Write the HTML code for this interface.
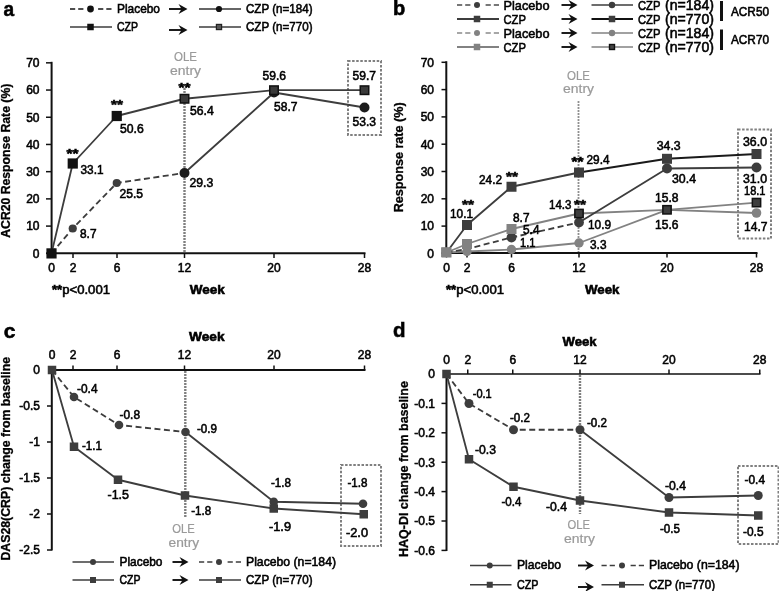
<!DOCTYPE html>
<html><head><meta charset="utf-8"><title>Figure</title>
<style>
html,body{margin:0;padding:0;background:#fff;}
body{width:779px;height:591px;overflow:hidden;font-family:"Liberation Sans", sans-serif;}
svg{display:block;font-family:"Liberation Sans", sans-serif;will-change:transform;}
svg text{font-family:"Liberation Sans", sans-serif;}
</style></head><body>
<svg width="779" height="591" viewBox="0 0 779 591">
<text x="3.4" y="15.7" font-size="20" font-weight="bold" fill="#000" stroke="#000" stroke-width="0.55" text-anchor="start" textLength="10.6" lengthAdjust="spacingAndGlyphs" >a</text>
<line x1="70" y1="9" x2="75.2" y2="9" stroke="#222" stroke-width="1.6" stroke-linecap="butt"/>
<line x1="78.2" y1="9" x2="83.4" y2="9" stroke="#222" stroke-width="1.6" stroke-linecap="butt"/>
<line x1="98.1" y1="9" x2="103.3" y2="9" stroke="#222" stroke-width="1.6" stroke-linecap="butt"/>
<line x1="106.3" y1="9" x2="111.5" y2="9" stroke="#222" stroke-width="1.6" stroke-linecap="butt"/>
<circle cx="90.5" cy="9" r="3.4" fill="#111"/>
<text x="117" y="13" font-size="12" font-weight="normal" fill="#000" stroke="#000" stroke-width="0.55" text-anchor="start" textLength="43" lengthAdjust="spacingAndGlyphs" >Placebo</text>
<path d="M169,9 H185" stroke="#111" stroke-width="1.9" fill="none"/>
<path d="M178.5,4 L187.5,9 L178.5,14 L181.5,9 Z" fill="#111"/>
<line x1="199" y1="9" x2="241" y2="9" stroke="#333" stroke-width="1.5" stroke-linecap="butt"/>
<circle cx="219" cy="9" r="3.1" fill="#111"/>
<text x="246" y="13" font-size="12" font-weight="normal" fill="#000" stroke="#000" stroke-width="0.55" text-anchor="start" textLength="66.5" lengthAdjust="spacingAndGlyphs" >CZP (n=184)</text>
<line x1="70" y1="27" x2="112" y2="27" stroke="#3d3d3d" stroke-width="1.5" stroke-linecap="butt"/>
<rect x="87.25" y="23.75" width="6.5" height="6.5" fill="#111"/>
<text x="117" y="31" font-size="12" font-weight="normal" fill="#000" stroke="#000" stroke-width="0.55" text-anchor="start" textLength="21" lengthAdjust="spacingAndGlyphs" >CZP</text>
<path d="M169,30 H185" stroke="#111" stroke-width="1.9" fill="none"/>
<path d="M178.5,25 L187.5,30 L178.5,35 L181.5,30 Z" fill="#111"/>
<line x1="199" y1="27" x2="241" y2="27" stroke="#3d3d3d" stroke-width="1.5" stroke-linecap="butt"/>
<rect x="216.4" y="24.4" width="5.2" height="5.2" fill="#555" stroke="#222" stroke-width="1.2"/>
<text x="246" y="31" font-size="12" font-weight="normal" fill="#000" stroke="#000" stroke-width="0.55" text-anchor="start" textLength="66.5" lengthAdjust="spacingAndGlyphs" >CZP (n=770)</text>
<line x1="51.6" y1="61.8" x2="51.6" y2="254" stroke="#111" stroke-width="2" stroke-linecap="butt"/>
<line x1="46.5" y1="253.3" x2="365.5" y2="253.3" stroke="#111" stroke-width="1.9" stroke-linecap="butt"/>
<line x1="46" y1="253.3" x2="51.6" y2="253.3" stroke="#111" stroke-width="1.5" stroke-linecap="butt"/>
<text x="39.5" y="257.6" font-size="12" font-weight="normal" fill="#000" stroke="#000" stroke-width="0.55" text-anchor="end" >0</text>
<line x1="46" y1="226.09" x2="51.6" y2="226.09" stroke="#111" stroke-width="1.5" stroke-linecap="butt"/>
<text x="39.5" y="230.39000000000001" font-size="12" font-weight="normal" fill="#000" stroke="#000" stroke-width="0.55" text-anchor="end" >10</text>
<line x1="46" y1="198.88" x2="51.6" y2="198.88" stroke="#111" stroke-width="1.5" stroke-linecap="butt"/>
<text x="39.5" y="203.18" font-size="12" font-weight="normal" fill="#000" stroke="#000" stroke-width="0.55" text-anchor="end" >20</text>
<line x1="46" y1="171.67000000000002" x2="51.6" y2="171.67000000000002" stroke="#111" stroke-width="1.5" stroke-linecap="butt"/>
<text x="39.5" y="175.97000000000003" font-size="12" font-weight="normal" fill="#000" stroke="#000" stroke-width="0.55" text-anchor="end" >30</text>
<line x1="46" y1="144.46" x2="51.6" y2="144.46" stroke="#111" stroke-width="1.5" stroke-linecap="butt"/>
<text x="39.5" y="148.76000000000002" font-size="12" font-weight="normal" fill="#000" stroke="#000" stroke-width="0.55" text-anchor="end" >40</text>
<line x1="46" y1="117.25" x2="51.6" y2="117.25" stroke="#111" stroke-width="1.5" stroke-linecap="butt"/>
<text x="39.5" y="121.55" font-size="12" font-weight="normal" fill="#000" stroke="#000" stroke-width="0.55" text-anchor="end" >50</text>
<line x1="46" y1="90.04000000000002" x2="51.6" y2="90.04000000000002" stroke="#111" stroke-width="1.5" stroke-linecap="butt"/>
<text x="39.5" y="94.34000000000002" font-size="12" font-weight="normal" fill="#000" stroke="#000" stroke-width="0.55" text-anchor="end" >60</text>
<line x1="46" y1="62.83000000000001" x2="51.6" y2="62.83000000000001" stroke="#111" stroke-width="1.5" stroke-linecap="butt"/>
<text x="39.5" y="67.13000000000001" font-size="12" font-weight="normal" fill="#000" stroke="#000" stroke-width="0.55" text-anchor="end" >70</text>
<line x1="51.5" y1="253.3" x2="51.5" y2="258" stroke="#111" stroke-width="1.5" stroke-linecap="butt"/>
<text x="51.5" y="272" font-size="12" font-weight="normal" fill="#000" stroke="#000" stroke-width="0.55" text-anchor="middle" >0</text>
<line x1="73" y1="253.3" x2="73" y2="258" stroke="#111" stroke-width="1.5" stroke-linecap="butt"/>
<text x="73" y="272" font-size="12" font-weight="normal" fill="#000" stroke="#000" stroke-width="0.55" text-anchor="middle" >2</text>
<line x1="117" y1="253.3" x2="117" y2="258" stroke="#111" stroke-width="1.5" stroke-linecap="butt"/>
<text x="117" y="272" font-size="12" font-weight="normal" fill="#000" stroke="#000" stroke-width="0.55" text-anchor="middle" >6</text>
<line x1="184.5" y1="253.3" x2="184.5" y2="258" stroke="#111" stroke-width="1.5" stroke-linecap="butt"/>
<text x="184.5" y="272" font-size="12" font-weight="normal" fill="#000" stroke="#000" stroke-width="0.55" text-anchor="middle" >12</text>
<line x1="274" y1="253.3" x2="274" y2="258" stroke="#111" stroke-width="1.5" stroke-linecap="butt"/>
<text x="274" y="272" font-size="12" font-weight="normal" fill="#000" stroke="#000" stroke-width="0.55" text-anchor="middle" >20</text>
<line x1="364.5" y1="253.3" x2="364.5" y2="258" stroke="#111" stroke-width="1.5" stroke-linecap="butt"/>
<text x="364.5" y="272" font-size="12" font-weight="normal" fill="#000" stroke="#000" stroke-width="0.55" text-anchor="middle" >28</text>
<text x="52" y="294" font-size="12" font-weight="normal" fill="#000" stroke="#000" stroke-width="0.55" text-anchor="start" textLength="58" lengthAdjust="spacingAndGlyphs" ><tspan font-weight="bold">**</tspan>p&lt;0.001</text>
<text x="189.8" y="294" font-size="12" font-weight="bold" fill="#000" stroke="#000" stroke-width="0.55" text-anchor="start" textLength="35" lengthAdjust="spacingAndGlyphs" >Week</text>
<text transform="translate(9.7,160.7) rotate(-90)" font-size="12" font-weight="bold" fill="#000" stroke="#000" stroke-width="0.3" text-anchor="middle" textLength="154" lengthAdjust="spacingAndGlyphs">ACR20 Response Rate (%)</text>
<text x="185.5" y="60.5" font-size="12" font-weight="normal" fill="#9a9a9a" stroke="#9a9a9a" stroke-width="0.2" text-anchor="middle" textLength="23" lengthAdjust="spacingAndGlyphs" >OLE</text>
<text x="185.5" y="74.5" font-size="12" font-weight="normal" fill="#9a9a9a" stroke="#9a9a9a" stroke-width="0.2" text-anchor="middle" textLength="31" lengthAdjust="spacingAndGlyphs" >entry</text>
<line x1="184.5" y1="88" x2="184.5" y2="252" stroke="#808080" stroke-width="2.4" stroke-dasharray="2,1" stroke-linecap="butt"/>
<rect x="348" y="61" width="33" height="74" fill="none" stroke="#808080" stroke-width="2" stroke-dasharray="2.5,1.6"/>
<polyline points="51.5,253.4 72.75,228.5 116.75,183 184.5,173" fill="none" stroke="#3d3d3d" stroke-width="1.83" stroke-dasharray="6,3.5" stroke-linejoin="round"/>
<polyline points="184.5,173 274,92.5 364.5,107.5" fill="none" stroke="#3d3d3d" stroke-width="1.83" stroke-linejoin="round"/>
<polyline points="51.5,253.4 72.75,163.5 116.75,116 184.5,98.75 274,90.2 364.5,90.2" fill="none" stroke="#3d3d3d" stroke-width="1.83" stroke-linejoin="round"/>
<circle cx="72.75" cy="228.5" r="4.1" fill="#3d3d3d"/>
<circle cx="116.75" cy="183" r="4.1" fill="#3d3d3d"/>
<circle cx="184.5" cy="173" r="5" fill="#1c1c1c"/>
<circle cx="274" cy="92.5" r="5" fill="#1c1c1c"/>
<circle cx="364.5" cy="107.5" r="5" fill="#1c1c1c"/>
<rect x="46.4" y="248.3" width="10.2" height="10.2" fill="#111"/>
<rect x="67.65" y="158.4" width="10.2" height="10.2" fill="#111"/>
<rect x="111.65" y="110.9" width="10.2" height="10.2" fill="#111"/>
<rect x="180.25" y="94.5" width="8.5" height="8.5" fill="#3a3a3a" stroke="#111" stroke-width="1.5"/>
<rect x="269.75" y="85.95" width="8.5" height="8.5" fill="#3a3a3a" stroke="#111" stroke-width="1.5"/>
<rect x="360.25" y="85.95" width="8.5" height="8.5" fill="#3a3a3a" stroke="#111" stroke-width="1.5"/>
<text x="80.5" y="174" font-size="12" font-weight="normal" fill="#000" stroke="#000" stroke-width="0.55" text-anchor="start" textLength="23" lengthAdjust="spacingAndGlyphs" >33.1</text>
<text x="119.5" y="198" font-size="12" font-weight="normal" fill="#000" stroke="#000" stroke-width="0.55" text-anchor="start" textLength="23.5" lengthAdjust="spacingAndGlyphs" >25.5</text>
<text x="80" y="238" font-size="12" font-weight="normal" fill="#000" stroke="#000" stroke-width="0.55" text-anchor="start" textLength="16.5" lengthAdjust="spacingAndGlyphs" >8.7</text>
<text x="120" y="133" font-size="12" font-weight="normal" fill="#000" stroke="#000" stroke-width="0.55" text-anchor="start" textLength="23.75" lengthAdjust="spacingAndGlyphs" >50.6</text>
<text x="190" y="114.5" font-size="12" font-weight="normal" fill="#000" stroke="#000" stroke-width="0.55" text-anchor="start" textLength="23.75" lengthAdjust="spacingAndGlyphs" >56.4</text>
<text x="189.5" y="187" font-size="12" font-weight="normal" fill="#000" stroke="#000" stroke-width="0.55" text-anchor="start" textLength="23.75" lengthAdjust="spacingAndGlyphs" >29.3</text>
<text x="262.5" y="80" font-size="12" font-weight="normal" fill="#000" stroke="#000" stroke-width="0.55" text-anchor="start" textLength="23.5" lengthAdjust="spacingAndGlyphs" >59.6</text>
<text x="274" y="110.5" font-size="12" font-weight="normal" fill="#000" stroke="#000" stroke-width="0.55" text-anchor="start" textLength="23.5" lengthAdjust="spacingAndGlyphs" >58.7</text>
<text x="352.5" y="80" font-size="12" font-weight="normal" fill="#000" stroke="#000" stroke-width="0.55" text-anchor="start" textLength="23.5" lengthAdjust="spacingAndGlyphs" >59.7</text>
<text x="352.5" y="126" font-size="12" font-weight="normal" fill="#000" stroke="#000" stroke-width="0.55" text-anchor="start" textLength="23.5" lengthAdjust="spacingAndGlyphs" >53.3</text>
<text x="72.5" y="158.3" font-size="13" font-weight="bold" fill="#000" stroke="#000" stroke-width="0.55" text-anchor="middle" textLength="12" lengthAdjust="spacingAndGlyphs" >**</text>
<text x="117" y="108.6" font-size="13" font-weight="bold" fill="#000" stroke="#000" stroke-width="0.55" text-anchor="middle" textLength="12" lengthAdjust="spacingAndGlyphs" >**</text>
<text x="184.5" y="92.3" font-size="13" font-weight="bold" fill="#000" stroke="#000" stroke-width="0.55" text-anchor="middle" textLength="12" lengthAdjust="spacingAndGlyphs" >**</text>
<text x="393" y="15" font-size="20" font-weight="bold" fill="#000" stroke="#000" stroke-width="0.55" text-anchor="start" >b</text>
<line x1="457" y1="5" x2="462.2" y2="5" stroke="#3d3d3d" stroke-width="1.4" stroke-linecap="butt"/>
<line x1="465.2" y1="5" x2="470.4" y2="5" stroke="#3d3d3d" stroke-width="1.4" stroke-linecap="butt"/>
<line x1="485.6" y1="5" x2="490.8" y2="5" stroke="#3d3d3d" stroke-width="1.4" stroke-linecap="butt"/>
<line x1="493.8" y1="5" x2="499" y2="5" stroke="#3d3d3d" stroke-width="1.4" stroke-linecap="butt"/>
<circle cx="477" cy="5" r="3" fill="#3d3d3d"/>
<text x="503.5" y="10" font-size="13" font-weight="normal" fill="#000" stroke="#000" stroke-width="0.55" text-anchor="start" textLength="46" lengthAdjust="spacingAndGlyphs" >Placebo</text>
<path d="M561.5,5 H575" stroke="#111" stroke-width="1.9" fill="none"/>
<path d="M568.5,0 L577.5,5 L568.5,10 L571.5,5 Z" fill="#111"/>
<line x1="591.5" y1="5" x2="633" y2="5" stroke="#3d3d3d" stroke-width="1.5" stroke-linecap="butt"/>
<circle cx="612" cy="5" r="3.2" fill="#3d3d3d"/>
<text x="638" y="10" font-size="13" font-weight="normal" fill="#000" stroke="#000" stroke-width="0.55" text-anchor="start" textLength="22.5" lengthAdjust="spacingAndGlyphs" >CZP</text>
<text x="665" y="10" font-size="14" font-weight="normal" fill="#000" stroke="#000" stroke-width="0.55" text-anchor="start" textLength="49" lengthAdjust="spacingAndGlyphs" >(n=184)</text>
<line x1="457" y1="19" x2="499" y2="19" stroke="#3d3d3d" stroke-width="1.8" stroke-linecap="butt"/>
<rect x="473.75" y="15.75" width="6.5" height="6.5" fill="#3d3d3d"/>
<text x="503.5" y="24" font-size="13" font-weight="normal" fill="#000" stroke="#000" stroke-width="0.55" text-anchor="start" textLength="22.5" lengthAdjust="spacingAndGlyphs" >CZP</text>
<path d="M561.5,19 H575" stroke="#111" stroke-width="1.9" fill="none"/>
<path d="M568.5,14 L577.5,19 L568.5,24 L571.5,19 Z" fill="#111"/>
<line x1="591.5" y1="19" x2="633" y2="19" stroke="#111" stroke-width="2" stroke-linecap="butt"/>
<rect x="608.75" y="15.75" width="6.5" height="6.5" fill="#3d3d3d"/>
<text x="638" y="24" font-size="13" font-weight="normal" fill="#000" stroke="#000" stroke-width="0.55" text-anchor="start" textLength="22.5" lengthAdjust="spacingAndGlyphs" >CZP</text>
<text x="665" y="24" font-size="14" font-weight="normal" fill="#000" stroke="#000" stroke-width="0.55" text-anchor="start" textLength="49" lengthAdjust="spacingAndGlyphs" >(n=770)</text>
<line x1="457" y1="33" x2="462.2" y2="33" stroke="#828282" stroke-width="1.4" stroke-linecap="butt"/>
<line x1="465.2" y1="33" x2="470.4" y2="33" stroke="#828282" stroke-width="1.4" stroke-linecap="butt"/>
<line x1="485.6" y1="33" x2="490.8" y2="33" stroke="#828282" stroke-width="1.4" stroke-linecap="butt"/>
<line x1="493.8" y1="33" x2="499" y2="33" stroke="#828282" stroke-width="1.4" stroke-linecap="butt"/>
<circle cx="477" cy="33" r="3" fill="#828282"/>
<text x="503.5" y="38" font-size="13" font-weight="normal" fill="#000" stroke="#000" stroke-width="0.55" text-anchor="start" textLength="46" lengthAdjust="spacingAndGlyphs" >Placebo</text>
<path d="M561.5,33 H575" stroke="#111" stroke-width="1.9" fill="none"/>
<path d="M568.5,28 L577.5,33 L568.5,38 L571.5,33 Z" fill="#111"/>
<line x1="591.5" y1="33" x2="633" y2="33" stroke="#828282" stroke-width="1.5" stroke-linecap="butt"/>
<circle cx="612" cy="33" r="3.2" fill="#828282"/>
<text x="638" y="38" font-size="13" font-weight="normal" fill="#000" stroke="#000" stroke-width="0.55" text-anchor="start" textLength="22.5" lengthAdjust="spacingAndGlyphs" >CZP</text>
<text x="665" y="38" font-size="14" font-weight="normal" fill="#000" stroke="#000" stroke-width="0.55" text-anchor="start" textLength="49" lengthAdjust="spacingAndGlyphs" >(n=184)</text>
<line x1="457" y1="47" x2="499" y2="47" stroke="#828282" stroke-width="1.8" stroke-linecap="butt"/>
<rect x="473.75" y="43.75" width="6.5" height="6.5" fill="#828282"/>
<text x="503.5" y="52" font-size="13" font-weight="normal" fill="#000" stroke="#000" stroke-width="0.55" text-anchor="start" textLength="22.5" lengthAdjust="spacingAndGlyphs" >CZP</text>
<path d="M561.5,47 H575" stroke="#111" stroke-width="1.9" fill="none"/>
<path d="M568.5,42 L577.5,47 L568.5,52 L571.5,47 Z" fill="#111"/>
<line x1="591.5" y1="47" x2="633" y2="47" stroke="#828282" stroke-width="1.5" stroke-linecap="butt"/>
<rect x="609.5" y="44.5" width="5" height="5" fill="#444" stroke="#111" stroke-width="1.4"/>
<text x="638" y="52" font-size="13" font-weight="normal" fill="#000" stroke="#000" stroke-width="0.55" text-anchor="start" textLength="22.5" lengthAdjust="spacingAndGlyphs" >CZP</text>
<text x="665" y="52" font-size="14" font-weight="normal" fill="#000" stroke="#000" stroke-width="0.55" text-anchor="start" textLength="49" lengthAdjust="spacingAndGlyphs" >(n=770)</text>
<line x1="721.5" y1="1" x2="721.5" y2="21" stroke="#111" stroke-width="3" stroke-linecap="butt"/>
<line x1="721.5" y1="29.5" x2="721.5" y2="50" stroke="#111" stroke-width="3" stroke-linecap="butt"/>
<text x="731" y="15.5" font-size="12" font-weight="normal" fill="#000" stroke="#000" stroke-width="0.55" text-anchor="start" textLength="38" lengthAdjust="spacingAndGlyphs" >ACR50</text>
<text x="731" y="43.5" font-size="12" font-weight="normal" fill="#000" stroke="#000" stroke-width="0.55" text-anchor="start" textLength="38" lengthAdjust="spacingAndGlyphs" >ACR70</text>
<line x1="446.3" y1="61.2" x2="446.3" y2="254" stroke="#111" stroke-width="2" stroke-linecap="butt"/>
<line x1="441.5" y1="253" x2="757.5" y2="253" stroke="#111" stroke-width="2" stroke-linecap="butt"/>
<line x1="441.5" y1="253.4" x2="446.3" y2="253.4" stroke="#111" stroke-width="1.5" stroke-linecap="butt"/>
<text x="434" y="257.7" font-size="12" font-weight="normal" fill="#000" stroke="#000" stroke-width="0.55" text-anchor="end" >0</text>
<line x1="441.5" y1="226.1" x2="446.3" y2="226.1" stroke="#111" stroke-width="1.5" stroke-linecap="butt"/>
<text x="434" y="230.4" font-size="12" font-weight="normal" fill="#000" stroke="#000" stroke-width="0.55" text-anchor="end" >10</text>
<line x1="441.5" y1="198.8" x2="446.3" y2="198.8" stroke="#111" stroke-width="1.5" stroke-linecap="butt"/>
<text x="434" y="203.10000000000002" font-size="12" font-weight="normal" fill="#000" stroke="#000" stroke-width="0.55" text-anchor="end" >20</text>
<line x1="441.5" y1="171.5" x2="446.3" y2="171.5" stroke="#111" stroke-width="1.5" stroke-linecap="butt"/>
<text x="434" y="175.8" font-size="12" font-weight="normal" fill="#000" stroke="#000" stroke-width="0.55" text-anchor="end" >30</text>
<line x1="441.5" y1="144.2" x2="446.3" y2="144.2" stroke="#111" stroke-width="1.5" stroke-linecap="butt"/>
<text x="434" y="148.5" font-size="12" font-weight="normal" fill="#000" stroke="#000" stroke-width="0.55" text-anchor="end" >40</text>
<line x1="441.5" y1="116.9" x2="446.3" y2="116.9" stroke="#111" stroke-width="1.5" stroke-linecap="butt"/>
<text x="434" y="121.2" font-size="12" font-weight="normal" fill="#000" stroke="#000" stroke-width="0.55" text-anchor="end" >50</text>
<line x1="441.5" y1="89.6" x2="446.3" y2="89.6" stroke="#111" stroke-width="1.5" stroke-linecap="butt"/>
<text x="434" y="93.89999999999999" font-size="12" font-weight="normal" fill="#000" stroke="#000" stroke-width="0.55" text-anchor="end" >60</text>
<line x1="441.5" y1="62.30000000000001" x2="446.3" y2="62.30000000000001" stroke="#111" stroke-width="1.5" stroke-linecap="butt"/>
<text x="434" y="66.60000000000001" font-size="12" font-weight="normal" fill="#000" stroke="#000" stroke-width="0.55" text-anchor="end" >70</text>
<line x1="446.5" y1="253" x2="446.5" y2="257.5" stroke="#111" stroke-width="1.5" stroke-linecap="butt"/>
<text x="446.5" y="272" font-size="12" font-weight="normal" fill="#000" stroke="#000" stroke-width="0.55" text-anchor="middle" >0</text>
<line x1="467" y1="253" x2="467" y2="257.5" stroke="#111" stroke-width="1.5" stroke-linecap="butt"/>
<text x="467" y="272" font-size="12" font-weight="normal" fill="#000" stroke="#000" stroke-width="0.55" text-anchor="middle" >2</text>
<line x1="511.5" y1="253" x2="511.5" y2="257.5" stroke="#111" stroke-width="1.5" stroke-linecap="butt"/>
<text x="511.5" y="272" font-size="12" font-weight="normal" fill="#000" stroke="#000" stroke-width="0.55" text-anchor="middle" >6</text>
<line x1="579" y1="253" x2="579" y2="257.5" stroke="#111" stroke-width="1.5" stroke-linecap="butt"/>
<text x="579" y="272" font-size="12" font-weight="normal" fill="#000" stroke="#000" stroke-width="0.55" text-anchor="middle" >12</text>
<line x1="667" y1="253" x2="667" y2="257.5" stroke="#111" stroke-width="1.5" stroke-linecap="butt"/>
<text x="667" y="272" font-size="12" font-weight="normal" fill="#000" stroke="#000" stroke-width="0.55" text-anchor="middle" >20</text>
<line x1="756.5" y1="253" x2="756.5" y2="257.5" stroke="#111" stroke-width="1.5" stroke-linecap="butt"/>
<text x="756.5" y="272" font-size="12" font-weight="normal" fill="#000" stroke="#000" stroke-width="0.55" text-anchor="middle" >28</text>
<text x="446" y="294" font-size="12" font-weight="normal" fill="#000" stroke="#000" stroke-width="0.55" text-anchor="start" textLength="58" lengthAdjust="spacingAndGlyphs" ><tspan font-weight="bold">**</tspan>p&lt;0.001</text>
<text x="585" y="293.5" font-size="12" font-weight="bold" fill="#000" stroke="#000" stroke-width="0.55" text-anchor="start" textLength="34.5" lengthAdjust="spacingAndGlyphs" >Week</text>
<text transform="translate(403.3,157.3) rotate(-90)" font-size="12" font-weight="bold" fill="#000" stroke="#000" stroke-width="0.3" text-anchor="middle" textLength="110" lengthAdjust="spacingAndGlyphs">Response rate (%)</text>
<text x="578.5" y="80" font-size="12" font-weight="normal" fill="#9a9a9a" stroke="#9a9a9a" stroke-width="0.2" text-anchor="middle" textLength="23" lengthAdjust="spacingAndGlyphs" >OLE</text>
<text x="578.5" y="92.5" font-size="12" font-weight="normal" fill="#9a9a9a" stroke="#9a9a9a" stroke-width="0.2" text-anchor="middle" textLength="31" lengthAdjust="spacingAndGlyphs" >entry</text>
<line x1="578.5" y1="101" x2="578.5" y2="252" stroke="#909090" stroke-width="1.8" stroke-dasharray="2,1" stroke-linecap="butt"/>
<rect x="738" y="129.5" width="33" height="109.0" fill="none" stroke="#808080" stroke-width="2" stroke-dasharray="2.5,1.6"/>
<polyline points="446.5,252.5 467,251.5 511.5,249.5 579,243" fill="none" stroke="#828282" stroke-width="1.83" stroke-linejoin="round"/>
<polyline points="579,243 667,209.8 756.5,213" fill="none" stroke="#828282" stroke-width="1.83" stroke-linejoin="round"/>
<polyline points="446.5,252.5 467,244 511.5,229 579,213.5 667,209.8 756.5,202.6" fill="none" stroke="#828282" stroke-width="1.83" stroke-linejoin="round"/>
<polyline points="446.5,252.5 467,249 511.5,237.5 579,222.5" fill="none" stroke="#3d3d3d" stroke-width="1.83" stroke-dasharray="6,3.5" stroke-linejoin="round"/>
<polyline points="579,222.5 667,168.5 756.5,167.5" fill="none" stroke="#3d3d3d" stroke-width="1.83" stroke-linejoin="round"/>
<polyline points="446.5,252.5 467,225 511.5,186.75 579,172.5" fill="none" stroke="#3d3d3d" stroke-width="1.83" stroke-linejoin="round"/>
<polyline points="579,172.5 667,158.8 756.5,154" fill="none" stroke="#1a1a1a" stroke-width="1.952" stroke-linejoin="round"/>
<circle cx="467" cy="251.5" r="4.7" fill="#828282"/>
<circle cx="511.5" cy="249.5" r="4.7" fill="#828282"/>
<circle cx="579" cy="243" r="4.7" fill="#828282"/>
<circle cx="756.5" cy="213" r="4.8" fill="#828282"/>
<circle cx="511.5" cy="237.5" r="4.9" fill="#3d3d3d"/>
<circle cx="579" cy="222.5" r="4.9" fill="#3d3d3d"/>
<circle cx="667" cy="168.5" r="5" fill="#3d3d3d"/>
<circle cx="756.5" cy="167.5" r="5" fill="#3d3d3d"/>
<rect x="441.5" y="247.5" width="10" height="10" fill="#828282"/>
<rect x="462.0" y="239.0" width="10" height="10" fill="#828282"/>
<rect x="506.5" y="224.0" width="10" height="10" fill="#828282"/>
<rect x="574.85" y="209.35" width="8.3" height="8.3" fill="#3d3d3d" stroke="#111" stroke-width="1.5"/>
<rect x="662.85" y="205.65" width="8.3" height="8.3" fill="#3d3d3d" stroke="#111" stroke-width="1.5"/>
<rect x="752.35" y="198.45" width="8.3" height="8.3" fill="#3d3d3d" stroke="#111" stroke-width="1.5"/>
<rect x="462.0" y="220.0" width="10" height="10" fill="#3d3d3d"/>
<rect x="506.5" y="181.75" width="10" height="10" fill="#3d3d3d"/>
<rect x="574.0" y="167.5" width="10" height="10" fill="#3d3d3d"/>
<rect x="662.0" y="153.8" width="10" height="10" fill="#3d3d3d"/>
<rect x="751.5" y="149.0" width="10" height="10" fill="#3d3d3d"/>
<rect x="441.15" y="247.35" width="9.7" height="9.7" fill="#828282"/>
<text x="450" y="218" font-size="12" font-weight="normal" fill="#000" stroke="#000" stroke-width="0.55" text-anchor="start" textLength="23" lengthAdjust="spacingAndGlyphs" >10.1</text>
<text x="468" y="208.5" font-size="13" font-weight="bold" fill="#000" stroke="#000" stroke-width="0.55" text-anchor="middle" textLength="12" lengthAdjust="spacingAndGlyphs" >**</text>
<text x="479" y="184" font-size="12" font-weight="normal" fill="#000" stroke="#000" stroke-width="0.55" text-anchor="start" textLength="23" lengthAdjust="spacingAndGlyphs" >24.2</text>
<text x="512" y="181.0" font-size="13" font-weight="bold" fill="#000" stroke="#000" stroke-width="0.55" text-anchor="middle" textLength="12" lengthAdjust="spacingAndGlyphs" >**</text>
<text x="513" y="222" font-size="12" font-weight="normal" fill="#000" stroke="#000" stroke-width="0.55" text-anchor="start" textLength="16.5" lengthAdjust="spacingAndGlyphs" >8.7</text>
<text x="523" y="234" font-size="12" font-weight="normal" fill="#000" stroke="#000" stroke-width="0.55" text-anchor="start" textLength="16.5" lengthAdjust="spacingAndGlyphs" >5.4</text>
<text x="520" y="247" font-size="12" font-weight="normal" fill="#000" stroke="#000" stroke-width="0.55" text-anchor="start" textLength="15.5" lengthAdjust="spacingAndGlyphs" >1.1</text>
<text x="549" y="209" font-size="12" font-weight="normal" fill="#000" stroke="#000" stroke-width="0.55" text-anchor="start" textLength="22.5" lengthAdjust="spacingAndGlyphs" >14.3</text>
<text x="580" y="208.60000000000002" font-size="13" font-weight="bold" fill="#000" stroke="#000" stroke-width="0.55" text-anchor="middle" textLength="12" lengthAdjust="spacingAndGlyphs" >**</text>
<text x="586.5" y="163.5" font-size="12" font-weight="normal" fill="#000" stroke="#000" stroke-width="0.55" text-anchor="start" textLength="23" lengthAdjust="spacingAndGlyphs" >29.4</text>
<text x="577.5" y="166.3" font-size="13" font-weight="bold" fill="#000" stroke="#000" stroke-width="0.55" text-anchor="middle" textLength="12" lengthAdjust="spacingAndGlyphs" >**</text>
<text x="588" y="229" font-size="12" font-weight="normal" fill="#000" stroke="#000" stroke-width="0.55" text-anchor="start" textLength="23" lengthAdjust="spacingAndGlyphs" >10.9</text>
<text x="590" y="249" font-size="12" font-weight="normal" fill="#000" stroke="#000" stroke-width="0.55" text-anchor="start" textLength="16.5" lengthAdjust="spacingAndGlyphs" >3.3</text>
<text x="656.7" y="149.6" font-size="12" font-weight="normal" fill="#000" stroke="#000" stroke-width="0.55" text-anchor="start" textLength="24" lengthAdjust="spacingAndGlyphs" >34.3</text>
<text x="672" y="183" font-size="12" font-weight="normal" fill="#000" stroke="#000" stroke-width="0.55" text-anchor="start" textLength="24" lengthAdjust="spacingAndGlyphs" >30.4</text>
<text x="655" y="202" font-size="12" font-weight="normal" fill="#000" stroke="#000" stroke-width="0.55" text-anchor="start" textLength="23.5" lengthAdjust="spacingAndGlyphs" >15.8</text>
<text x="655" y="228.5" font-size="12" font-weight="normal" fill="#000" stroke="#000" stroke-width="0.55" text-anchor="start" textLength="23.5" lengthAdjust="spacingAndGlyphs" >15.6</text>
<text x="743" y="145.5" font-size="12" font-weight="normal" fill="#000" stroke="#000" stroke-width="0.55" text-anchor="start" textLength="24" lengthAdjust="spacingAndGlyphs" >36.0</text>
<text x="743" y="183" font-size="12" font-weight="normal" fill="#000" stroke="#000" stroke-width="0.55" text-anchor="start" textLength="24" lengthAdjust="spacingAndGlyphs" >31.0</text>
<text x="744" y="194.5" font-size="12" font-weight="normal" fill="#000" stroke="#000" stroke-width="0.55" text-anchor="start" textLength="21.5" lengthAdjust="spacingAndGlyphs" >18.1</text>
<text x="744" y="231" font-size="12" font-weight="normal" fill="#000" stroke="#000" stroke-width="0.55" text-anchor="start" textLength="23.5" lengthAdjust="spacingAndGlyphs" >14.7</text>
<text x="3.8" y="338" font-size="21" font-weight="bold" fill="#000" stroke="#000" stroke-width="0.55" text-anchor="start" >c</text>
<line x1="51.8" y1="369" x2="51.8" y2="550.5" stroke="#111" stroke-width="2" stroke-linecap="butt"/>
<line x1="51" y1="370" x2="365.5" y2="370" stroke="#111" stroke-width="2" stroke-linecap="butt"/>
<text x="40" y="374.3" font-size="12" font-weight="normal" fill="#000" stroke="#000" stroke-width="0.55" text-anchor="end" >0</text>
<line x1="47" y1="406" x2="51.8" y2="406" stroke="#111" stroke-width="1.5" stroke-linecap="butt"/>
<text x="40" y="410.3" font-size="12" font-weight="normal" fill="#000" stroke="#000" stroke-width="0.55" text-anchor="end" >-0.5</text>
<line x1="47" y1="442" x2="51.8" y2="442" stroke="#111" stroke-width="1.5" stroke-linecap="butt"/>
<text x="40" y="446.3" font-size="12" font-weight="normal" fill="#000" stroke="#000" stroke-width="0.55" text-anchor="end" >-1</text>
<line x1="47" y1="478" x2="51.8" y2="478" stroke="#111" stroke-width="1.5" stroke-linecap="butt"/>
<text x="40" y="482.3" font-size="12" font-weight="normal" fill="#000" stroke="#000" stroke-width="0.55" text-anchor="end" >-1.5</text>
<line x1="47" y1="514" x2="51.8" y2="514" stroke="#111" stroke-width="1.5" stroke-linecap="butt"/>
<text x="40" y="518.3" font-size="12" font-weight="normal" fill="#000" stroke="#000" stroke-width="0.55" text-anchor="end" >-2</text>
<line x1="47" y1="550" x2="51.8" y2="550" stroke="#111" stroke-width="1.5" stroke-linecap="butt"/>
<text x="40" y="554.3" font-size="12" font-weight="normal" fill="#000" stroke="#000" stroke-width="0.55" text-anchor="end" >-2.5</text>
<text x="52" y="358.5" font-size="12" font-weight="normal" fill="#000" stroke="#000" stroke-width="0.55" text-anchor="middle" >0</text>
<line x1="73" y1="365.5" x2="73" y2="370" stroke="#111" stroke-width="1.5" stroke-linecap="butt"/>
<text x="73" y="358.5" font-size="12" font-weight="normal" fill="#000" stroke="#000" stroke-width="0.55" text-anchor="middle" >2</text>
<line x1="117" y1="365.5" x2="117" y2="370" stroke="#111" stroke-width="1.5" stroke-linecap="butt"/>
<text x="117" y="358.5" font-size="12" font-weight="normal" fill="#000" stroke="#000" stroke-width="0.55" text-anchor="middle" >6</text>
<line x1="184.5" y1="365.5" x2="184.5" y2="370" stroke="#111" stroke-width="1.5" stroke-linecap="butt"/>
<text x="184.5" y="358.5" font-size="12" font-weight="normal" fill="#000" stroke="#000" stroke-width="0.55" text-anchor="middle" >12</text>
<line x1="274" y1="365.5" x2="274" y2="370" stroke="#111" stroke-width="1.5" stroke-linecap="butt"/>
<text x="274" y="358.5" font-size="12" font-weight="normal" fill="#000" stroke="#000" stroke-width="0.55" text-anchor="middle" >20</text>
<line x1="364.5" y1="365.5" x2="364.5" y2="370" stroke="#111" stroke-width="1.5" stroke-linecap="butt"/>
<text x="364.5" y="358.5" font-size="12" font-weight="normal" fill="#000" stroke="#000" stroke-width="0.55" text-anchor="middle" >28</text>
<text x="189" y="340.5" font-size="12" font-weight="bold" fill="#000" stroke="#000" stroke-width="0.55" text-anchor="start" textLength="35.5" lengthAdjust="spacingAndGlyphs" >Week</text>
<text transform="translate(9.7,458.75) rotate(-90)" font-size="12" font-weight="bold" fill="#000" stroke="#000" stroke-width="0.3" text-anchor="middle" textLength="203.5" lengthAdjust="spacingAndGlyphs">DAS28(CRP) change from baseline</text>
<line x1="185.3" y1="371" x2="185.3" y2="517" stroke="#808080" stroke-width="2.4" stroke-dasharray="2,1" stroke-linecap="butt"/>
<text x="183.4" y="532.5" font-size="12" font-weight="normal" fill="#9a9a9a" stroke="#9a9a9a" stroke-width="0.2" text-anchor="middle" textLength="22.5" lengthAdjust="spacingAndGlyphs" >OLE</text>
<text x="183.8" y="546.8" font-size="12" font-weight="normal" fill="#9a9a9a" stroke="#9a9a9a" stroke-width="0.2" text-anchor="middle" textLength="30.6" lengthAdjust="spacingAndGlyphs" >entry</text>
<rect x="341" y="465" width="40" height="81" fill="none" stroke="#808080" stroke-width="2" stroke-dasharray="2.5,1.6"/>
<polyline points="52,370 74,397 119,425 185.5,432" fill="none" stroke="#3d3d3d" stroke-width="1.83" stroke-dasharray="6,3.5" stroke-linejoin="round"/>
<polyline points="185.5,432 273.75,501.75 363,503.75" fill="none" stroke="#3d3d3d" stroke-width="1.83" stroke-linejoin="round"/>
<polyline points="52,370 74,446.75 118,479.75 185,495.5 273.75,508.5 363.75,514.25" fill="none" stroke="#3d3d3d" stroke-width="1.83" stroke-linejoin="round"/>
<circle cx="74" cy="397" r="4.3" fill="#3d3d3d"/>
<circle cx="119" cy="425" r="4.3" fill="#3d3d3d"/>
<circle cx="185.5" cy="432" r="4.3" fill="#3d3d3d"/>
<circle cx="273.75" cy="501.75" r="4.3" fill="#3d3d3d"/>
<circle cx="363" cy="503.75" r="4.3" fill="#3d3d3d"/>
<rect x="47.75" y="365.75" width="8.5" height="8.5" fill="#3d3d3d"/>
<rect x="69.75" y="442.5" width="8.5" height="8.5" fill="#3d3d3d"/>
<rect x="113.75" y="475.5" width="8.5" height="8.5" fill="#3d3d3d"/>
<rect x="180.75" y="491.25" width="8.5" height="8.5" fill="#3d3d3d"/>
<rect x="269.5" y="504.25" width="8.5" height="8.5" fill="#3d3d3d"/>
<rect x="359.5" y="510.0" width="8.5" height="8.5" fill="#3d3d3d"/>
<text x="77" y="393" font-size="12" font-weight="normal" fill="#000" stroke="#000" stroke-width="0.55" text-anchor="start" textLength="20.5" lengthAdjust="spacingAndGlyphs" >-0.4</text>
<text x="119.5" y="418.5" font-size="12" font-weight="normal" fill="#000" stroke="#000" stroke-width="0.55" text-anchor="start" textLength="20.5" lengthAdjust="spacingAndGlyphs" >-0.8</text>
<text x="197" y="433" font-size="12" font-weight="normal" fill="#000" stroke="#000" stroke-width="0.55" text-anchor="start" textLength="20" lengthAdjust="spacingAndGlyphs" >-0.9</text>
<text x="82" y="449.5" font-size="12" font-weight="normal" fill="#000" stroke="#000" stroke-width="0.55" text-anchor="start" textLength="20" lengthAdjust="spacingAndGlyphs" >-1.1</text>
<text x="107.5" y="498.5" font-size="12" font-weight="normal" fill="#000" stroke="#000" stroke-width="0.55" text-anchor="start" textLength="21.5" lengthAdjust="spacingAndGlyphs" >-1.5</text>
<text x="191.2" y="515" font-size="12" font-weight="normal" fill="#000" stroke="#000" stroke-width="0.55" text-anchor="start" textLength="20" lengthAdjust="spacingAndGlyphs" >-1.8</text>
<text x="271" y="486.75" font-size="12" font-weight="normal" fill="#000" stroke="#000" stroke-width="0.55" text-anchor="start" textLength="20" lengthAdjust="spacingAndGlyphs" >-1.8</text>
<text x="269" y="530.5" font-size="12" font-weight="normal" fill="#000" stroke="#000" stroke-width="0.55" text-anchor="start" textLength="22" lengthAdjust="spacingAndGlyphs" >-1.9</text>
<text x="347.5" y="486.75" font-size="12" font-weight="normal" fill="#000" stroke="#000" stroke-width="0.55" text-anchor="start" textLength="20" lengthAdjust="spacingAndGlyphs" >-1.8</text>
<text x="346" y="536.75" font-size="12" font-weight="normal" fill="#000" stroke="#000" stroke-width="0.55" text-anchor="start" textLength="22" lengthAdjust="spacingAndGlyphs" >-2.0</text>
<line x1="72.5" y1="562" x2="114" y2="562" stroke="#3d3d3d" stroke-width="1.5" stroke-linecap="butt"/>
<circle cx="93" cy="562" r="3" fill="#3d3d3d"/>
<text x="119.5" y="566" font-size="12" font-weight="normal" fill="#000" stroke="#000" stroke-width="0.55" text-anchor="start" textLength="43" lengthAdjust="spacingAndGlyphs" >Placebo</text>
<path d="M172.5,562 H186" stroke="#111" stroke-width="1.9" fill="none"/>
<path d="M179.5,557 L188.5,562 L179.5,567 L182.5,562 Z" fill="#111"/>
<line x1="199" y1="562" x2="204.2" y2="562" stroke="#3d3d3d" stroke-width="1.5" stroke-linecap="butt"/>
<line x1="207.2" y1="562" x2="212.4" y2="562" stroke="#3d3d3d" stroke-width="1.5" stroke-linecap="butt"/>
<line x1="227.6" y1="562" x2="232.8" y2="562" stroke="#3d3d3d" stroke-width="1.5" stroke-linecap="butt"/>
<line x1="235.8" y1="562" x2="241" y2="562" stroke="#3d3d3d" stroke-width="1.5" stroke-linecap="butt"/>
<circle cx="219" cy="562" r="3" fill="#3d3d3d"/>
<text x="246" y="566" font-size="12" font-weight="normal" fill="#000" stroke="#000" stroke-width="0.55" text-anchor="start" textLength="90" lengthAdjust="spacingAndGlyphs" >Placebo (n=184)</text>
<line x1="72.5" y1="580" x2="114" y2="580" stroke="#3d3d3d" stroke-width="1.5" stroke-linecap="butt"/>
<rect x="90.0" y="577.0" width="6" height="6" fill="#3d3d3d"/>
<text x="119.5" y="583.5" font-size="12" font-weight="normal" fill="#000" stroke="#000" stroke-width="0.55" text-anchor="start" textLength="21" lengthAdjust="spacingAndGlyphs" >CZP</text>
<path d="M172.5,580 H186" stroke="#111" stroke-width="1.9" fill="none"/>
<path d="M179.5,575 L188.5,580 L179.5,585 L182.5,580 Z" fill="#111"/>
<line x1="199" y1="580" x2="241" y2="580" stroke="#3d3d3d" stroke-width="1.5" stroke-linecap="butt"/>
<rect x="216.0" y="577.0" width="6" height="6" fill="#3d3d3d"/>
<text x="246" y="583.5" font-size="12" font-weight="normal" fill="#000" stroke="#000" stroke-width="0.55" text-anchor="start" textLength="66.5" lengthAdjust="spacingAndGlyphs" >CZP (n=770)</text>
<text x="393" y="337" font-size="20.5" font-weight="bold" fill="#000" stroke="#000" stroke-width="0.55" text-anchor="start" >d</text>
<line x1="446.5" y1="373" x2="446.5" y2="551" stroke="#111" stroke-width="2" stroke-linecap="butt"/>
<line x1="445.5" y1="374" x2="760.5" y2="374" stroke="#111" stroke-width="1.7" stroke-linecap="butt"/>
<text x="435" y="378.3" font-size="12" font-weight="normal" fill="#000" stroke="#000" stroke-width="0.55" text-anchor="end" >0</text>
<line x1="441.5" y1="403.4" x2="446.5" y2="403.4" stroke="#111" stroke-width="1.5" stroke-linecap="butt"/>
<text x="435" y="407.7" font-size="12" font-weight="normal" fill="#000" stroke="#000" stroke-width="0.55" text-anchor="end" >-0.1</text>
<line x1="441.5" y1="432.8" x2="446.5" y2="432.8" stroke="#111" stroke-width="1.5" stroke-linecap="butt"/>
<text x="435" y="437.1" font-size="12" font-weight="normal" fill="#000" stroke="#000" stroke-width="0.55" text-anchor="end" >-0.2</text>
<line x1="441.5" y1="462.2" x2="446.5" y2="462.2" stroke="#111" stroke-width="1.5" stroke-linecap="butt"/>
<text x="435" y="466.5" font-size="12" font-weight="normal" fill="#000" stroke="#000" stroke-width="0.55" text-anchor="end" >-0.3</text>
<line x1="441.5" y1="491.6" x2="446.5" y2="491.6" stroke="#111" stroke-width="1.5" stroke-linecap="butt"/>
<text x="435" y="495.90000000000003" font-size="12" font-weight="normal" fill="#000" stroke="#000" stroke-width="0.55" text-anchor="end" >-0.4</text>
<line x1="441.5" y1="521.0" x2="446.5" y2="521.0" stroke="#111" stroke-width="1.5" stroke-linecap="butt"/>
<text x="435" y="525.3" font-size="12" font-weight="normal" fill="#000" stroke="#000" stroke-width="0.55" text-anchor="end" >-0.5</text>
<line x1="441.5" y1="550.4" x2="446.5" y2="550.4" stroke="#111" stroke-width="1.5" stroke-linecap="butt"/>
<text x="435" y="554.6999999999999" font-size="12" font-weight="normal" fill="#000" stroke="#000" stroke-width="0.55" text-anchor="end" >-0.6</text>
<text x="446.5" y="363.5" font-size="12" font-weight="normal" fill="#000" stroke="#000" stroke-width="0.55" text-anchor="middle" >0</text>
<line x1="467.75" y1="369.5" x2="467.75" y2="374" stroke="#111" stroke-width="1.5" stroke-linecap="butt"/>
<text x="467.75" y="363.5" font-size="12" font-weight="normal" fill="#000" stroke="#000" stroke-width="0.55" text-anchor="middle" >2</text>
<line x1="512.75" y1="369.5" x2="512.75" y2="374" stroke="#111" stroke-width="1.5" stroke-linecap="butt"/>
<text x="512.75" y="363.5" font-size="12" font-weight="normal" fill="#000" stroke="#000" stroke-width="0.55" text-anchor="middle" >6</text>
<line x1="580" y1="369.5" x2="580" y2="374" stroke="#111" stroke-width="1.5" stroke-linecap="butt"/>
<text x="580" y="363.5" font-size="12" font-weight="normal" fill="#000" stroke="#000" stroke-width="0.55" text-anchor="middle" >12</text>
<line x1="669" y1="369.5" x2="669" y2="374" stroke="#111" stroke-width="1.5" stroke-linecap="butt"/>
<text x="669" y="363.5" font-size="12" font-weight="normal" fill="#000" stroke="#000" stroke-width="0.55" text-anchor="middle" >20</text>
<line x1="759.75" y1="369.5" x2="759.75" y2="374" stroke="#111" stroke-width="1.5" stroke-linecap="butt"/>
<text x="759.75" y="363.5" font-size="12" font-weight="normal" fill="#000" stroke="#000" stroke-width="0.55" text-anchor="middle" >28</text>
<text x="562.5" y="346" font-size="12" font-weight="bold" fill="#000" stroke="#000" stroke-width="0.55" text-anchor="start" textLength="34" lengthAdjust="spacingAndGlyphs" >Week</text>
<text transform="translate(407.5,469) rotate(-90)" font-size="12" font-weight="bold" fill="#000" stroke="#000" stroke-width="0.3" text-anchor="middle" textLength="175.75" lengthAdjust="spacingAndGlyphs">HAQ-DI change from baseline</text>
<line x1="580" y1="375" x2="580" y2="514" stroke="#808080" stroke-width="2.4" stroke-dasharray="2,1" stroke-linecap="butt"/>
<text x="578.8" y="529" font-size="12" font-weight="normal" fill="#9a9a9a" stroke="#9a9a9a" stroke-width="0.2" text-anchor="middle" textLength="22.5" lengthAdjust="spacingAndGlyphs" >OLE</text>
<text x="579.5" y="543" font-size="12" font-weight="normal" fill="#9a9a9a" stroke="#9a9a9a" stroke-width="0.2" text-anchor="middle" textLength="31" lengthAdjust="spacingAndGlyphs" >entry</text>
<rect x="738" y="466" width="40.5" height="78" fill="none" stroke="#808080" stroke-width="2" stroke-dasharray="2.5,1.6"/>
<polyline points="446.5,374 469,403.5 513.5,429.75 580,429.75" fill="none" stroke="#3d3d3d" stroke-width="1.83" stroke-dasharray="6,3.5" stroke-linejoin="round"/>
<polyline points="580,429.75 669,497.5 758.25,495.5" fill="none" stroke="#3d3d3d" stroke-width="1.83" stroke-linejoin="round"/>
<polyline points="446.5,374 469,459.25 513.5,486.75 580,500.5 669,512.5 758.25,515.5" fill="none" stroke="#3d3d3d" stroke-width="1.83" stroke-linejoin="round"/>
<circle cx="469" cy="403.5" r="4.5" fill="#3d3d3d"/>
<circle cx="513.5" cy="429.75" r="4.5" fill="#3d3d3d"/>
<circle cx="580" cy="429.75" r="4.5" fill="#3d3d3d"/>
<circle cx="669" cy="497.5" r="4.5" fill="#3d3d3d"/>
<circle cx="758.25" cy="495.5" r="4.5" fill="#3d3d3d"/>
<rect x="442.25" y="369.75" width="8.5" height="8.5" fill="#3d3d3d"/>
<rect x="464.75" y="455.0" width="8.5" height="8.5" fill="#3d3d3d"/>
<rect x="509.25" y="482.5" width="8.5" height="8.5" fill="#3d3d3d"/>
<rect x="575.75" y="496.25" width="8.5" height="8.5" fill="#3d3d3d"/>
<rect x="664.75" y="508.25" width="8.5" height="8.5" fill="#3d3d3d"/>
<rect x="754.0" y="511.25" width="8.5" height="8.5" fill="#3d3d3d"/>
<text x="472.75" y="398" font-size="12" font-weight="normal" fill="#000" stroke="#000" stroke-width="0.55" text-anchor="start" textLength="19" lengthAdjust="spacingAndGlyphs" >-0.1</text>
<text x="510" y="421.5" font-size="12" font-weight="normal" fill="#000" stroke="#000" stroke-width="0.55" text-anchor="start" textLength="20" lengthAdjust="spacingAndGlyphs" >-0.2</text>
<text x="587" y="427" font-size="12" font-weight="normal" fill="#000" stroke="#000" stroke-width="0.55" text-anchor="start" textLength="20" lengthAdjust="spacingAndGlyphs" >-0.2</text>
<text x="475" y="454" font-size="12" font-weight="normal" fill="#000" stroke="#000" stroke-width="0.55" text-anchor="start" textLength="21" lengthAdjust="spacingAndGlyphs" >-0.3</text>
<text x="501.5" y="505.5" font-size="12" font-weight="normal" fill="#000" stroke="#000" stroke-width="0.55" text-anchor="start" textLength="20" lengthAdjust="spacingAndGlyphs" >-0.4</text>
<text x="546" y="511" font-size="12" font-weight="normal" fill="#000" stroke="#000" stroke-width="0.55" text-anchor="start" textLength="21" lengthAdjust="spacingAndGlyphs" >-0.4</text>
<text x="665" y="490" font-size="12" font-weight="normal" fill="#000" stroke="#000" stroke-width="0.55" text-anchor="start" textLength="21" lengthAdjust="spacingAndGlyphs" >-0.4</text>
<text x="660" y="533" font-size="12" font-weight="normal" fill="#000" stroke="#000" stroke-width="0.55" text-anchor="start" textLength="20" lengthAdjust="spacingAndGlyphs" >-0.5</text>
<text x="744.5" y="484" font-size="12" font-weight="normal" fill="#000" stroke="#000" stroke-width="0.55" text-anchor="start" textLength="20.5" lengthAdjust="spacingAndGlyphs" >-0.4</text>
<text x="743" y="535.5" font-size="12" font-weight="normal" fill="#000" stroke="#000" stroke-width="0.55" text-anchor="start" textLength="20.5" lengthAdjust="spacingAndGlyphs" >-0.5</text>
<line x1="470" y1="565.5" x2="511.5" y2="565.5" stroke="#3d3d3d" stroke-width="1.5" stroke-linecap="butt"/>
<circle cx="489.75" cy="565.5" r="3" fill="#3d3d3d"/>
<text x="517" y="569" font-size="12" font-weight="normal" fill="#000" stroke="#000" stroke-width="0.55" text-anchor="start" textLength="44" lengthAdjust="spacingAndGlyphs" >Placebo</text>
<path d="M578,565.5 H591.5" stroke="#111" stroke-width="1.9" fill="none"/>
<path d="M585.0,560.5 L594.0,565.5 L585.0,570.5 L588.0,565.5 Z" fill="#111"/>
<line x1="601.5" y1="565.5" x2="606.7" y2="565.5" stroke="#3d3d3d" stroke-width="1.5" stroke-linecap="butt"/>
<line x1="609.7" y1="565.5" x2="614.9" y2="565.5" stroke="#3d3d3d" stroke-width="1.5" stroke-linecap="butt"/>
<line x1="630.6" y1="565.5" x2="635.8" y2="565.5" stroke="#3d3d3d" stroke-width="1.5" stroke-linecap="butt"/>
<line x1="638.8" y1="565.5" x2="644" y2="565.5" stroke="#3d3d3d" stroke-width="1.5" stroke-linecap="butt"/>
<circle cx="622" cy="565.5" r="3" fill="#3d3d3d"/>
<text x="649" y="569" font-size="12" font-weight="normal" fill="#000" stroke="#000" stroke-width="0.55" text-anchor="start" textLength="90.5" lengthAdjust="spacingAndGlyphs" >Placebo (n=184)</text>
<line x1="470" y1="584.75" x2="511.5" y2="584.75" stroke="#3d3d3d" stroke-width="1.5" stroke-linecap="butt"/>
<rect x="486.75" y="581.75" width="6" height="6" fill="#3d3d3d"/>
<text x="517" y="588.5" font-size="12" font-weight="normal" fill="#000" stroke="#000" stroke-width="0.55" text-anchor="start" textLength="21.5" lengthAdjust="spacingAndGlyphs" >CZP</text>
<path d="M578,587 H591.5" stroke="#111" stroke-width="1.9" fill="none"/>
<path d="M585.0,582 L594.0,587 L585.0,592 L588.0,587 Z" fill="#111"/>
<line x1="601.5" y1="584.75" x2="644" y2="584.75" stroke="#3d3d3d" stroke-width="1.5" stroke-linecap="butt"/>
<rect x="619.0" y="581.75" width="6" height="6" fill="#3d3d3d"/>
<text x="649" y="588.5" font-size="12" font-weight="normal" fill="#000" stroke="#000" stroke-width="0.55" text-anchor="start" textLength="66" lengthAdjust="spacingAndGlyphs" >CZP (n=770)</text>
</svg>
</body></html>
